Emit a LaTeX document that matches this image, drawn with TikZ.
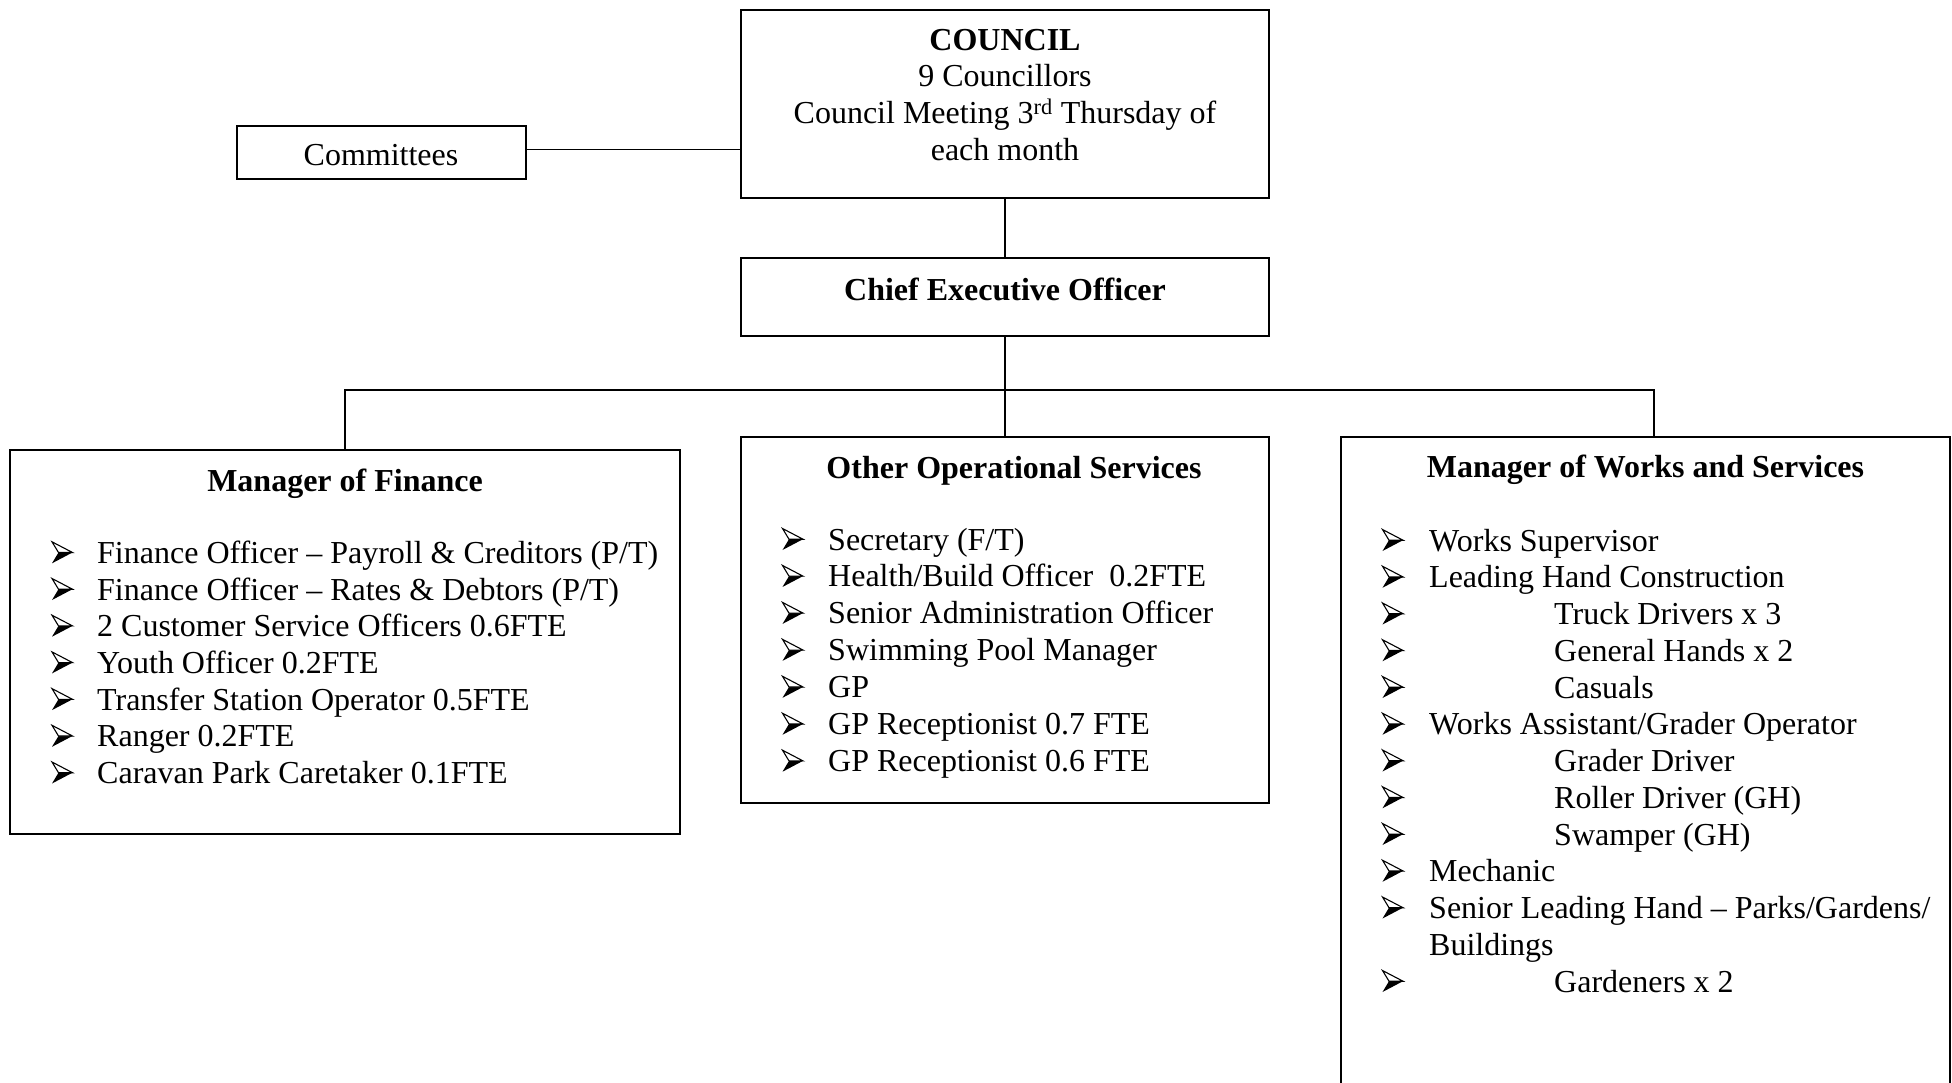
\documentclass[tikz,border=0pt]{standalone}
\usepackage{fontspec}
\setmainfont{Liberation Serif}
\tikzset{arrowbul/.pic={
  \fill[black] (6.5,-10.8) -- (20.5,-10.8) -- (0,0) -- cycle;
  \filldraw[fill=white, draw=black, line width=1.1pt, line join=miter] (0,-21.5) -- (20.5,-10.8) -- (6.5,-10.8) -- cycle;
}}
\newcommand\myitem[5]{%
  \pic (#1b) at (#2,#4) {arrowbul};
  \node[ltxt] (#1) at (#3,#4) {#5};}
\begin{document}
\begin{tikzpicture}[x=1pt,y=-1pt,
  box/.style={draw=black, line width=2pt, inner sep=0pt, outer sep=0pt},
  conn/.style={draw=black, line width=1.5pt},
  txt/.style={inner sep=0pt, anchor=base, font=\fontsize{32}{36.7}\selectfont},
  btxt/.style={inner sep=0pt, anchor=base, font=\fontsize{32}{36.7}\selectfont\bfseries},
  ltxt/.style={inner sep=0pt, anchor=base west, font=\fontsize{32}{36.7}\selectfont},
]
\useasboundingbox (0,0) rectangle (1952,1082);
\clip (0,0) rectangle (1952,1082);

% boxes
\node[box, minimum width=528, minimum height=188] (council) at (1005,103.5) {};
\node[box, minimum width=289, minimum height=53] (comm) at (381,152) {};
\node[box, minimum width=528, minimum height=77.5] (ceo) at (1005,296.75) {};
\node[box, minimum width=670, minimum height=384] (fin) at (345,641.5) {};
\node[box, minimum width=528, minimum height=366] (oth) at (1005,620) {};
\node[box, minimum width=609, minimum height=673] (works) at (1645.5,773.5) {};

% connectors
\coordinate (busc) at (1005,390);
\coordinate (busr) at (1654,390);
\draw[conn] ([yshift=2.5pt]comm.east) -- ([yshift=2.5pt]comm.east -| council.west);
\draw[conn] (council.south) -- (ceo.north);
\draw[conn] (ceo.south) -- (oth.north);
\draw[conn] (fin.north) -- (fin.north |- busc) -- (busr) -- (busr |- works.north);

% council texts
\node[btxt] (t-council) at (1005,50) {COUNCIL};
\node[txt] (t-nine) at (1005,86.7) {9 Councillors};
\node[txt] (t-meet) at (1005,123.4) {Council Meeting 3\textsuperscript{rd} Thursday of};
\node[txt] (t-month) at (1005,160.1) {each month};
\node[txt] (t-comm) at (381,165) {Committees};
\node[btxt] (t-ceo) at (1005,300) {Chief Executive Officer};

% finance
\node[btxt] (t-fin) at (345,491) {Manager of Finance};
\myitem{f1}{52}{97}{563.3}{Finance Officer – Payroll \& Creditors (P/T)}
\myitem{f2}{52}{97}{600.0}{Finance Officer – Rates \& Debtors (P/T)}
\myitem{f3}{52}{97}{636.7}{2 Customer Service Officers 0.6FTE}
\myitem{f4}{52}{97}{673.4}{Youth Officer 0.2FTE}
\myitem{f5}{52}{97}{710.1}{Transfer Station Operator 0.5FTE}
\myitem{f6}{52}{97}{746.8}{Ranger 0.2FTE}
\myitem{f7}{52}{97}{783.5}{Caravan Park Caretaker 0.1FTE}

% other
\node[btxt] (t-oth) at (1014,478) {Other Operational Services};
\myitem{o1}{782.5}{828}{550.0}{Secretary (F/T)}
\myitem{o2}{782.5}{828}{586.95}{Health/Build Officer\ \ 0.2FTE}
\myitem{o3}{782.5}{828}{623.9}{Senior Administration Officer}
\myitem{o4}{782.5}{828}{660.85}{Swimming Pool Manager}
\myitem{o5}{782.5}{828}{697.8}{GP}
\myitem{o6}{782.5}{828}{734.75}{GP Receptionist 0.7 FTE}
\myitem{o7}{782.5}{828}{771.7}{GP Receptionist 0.6 FTE}

% works
\node[btxt] (t-works) at (1645.5,477) {Manager of Works and Services};
\myitem{w1}{1382.5}{1429}{551.0}{Works Supervisor}
\myitem{w2}{1382.5}{1429}{587.75}{Leading Hand Construction}
\myitem{w3}{1382.5}{1554}{624.5}{Truck Drivers x 3}
\myitem{w4}{1382.5}{1554}{661.25}{General Hands x 2}
\myitem{w5}{1382.5}{1554}{698.0}{Casuals}
\myitem{w6}{1382.5}{1429}{734.75}{Works Assistant/Grader Operator}
\myitem{w7}{1382.5}{1554}{771.5}{Grader Driver}
\myitem{w8}{1382.5}{1554}{808.25}{Roller Driver (GH)}
\myitem{w9}{1382.5}{1554}{845.0}{Swamper (GH)}
\myitem{w10}{1382.5}{1429}{881.75}{Mechanic}
\myitem{w11}{1382.5}{1429}{918.5}{Senior Leading Hand – Parks/Gardens/}
\node[ltxt] (w11b2) at (1429,955.25) {Buildings};
\myitem{w12}{1382.5}{1554}{992.0}{Gardeners x 2}
\end{tikzpicture}
\end{document}
